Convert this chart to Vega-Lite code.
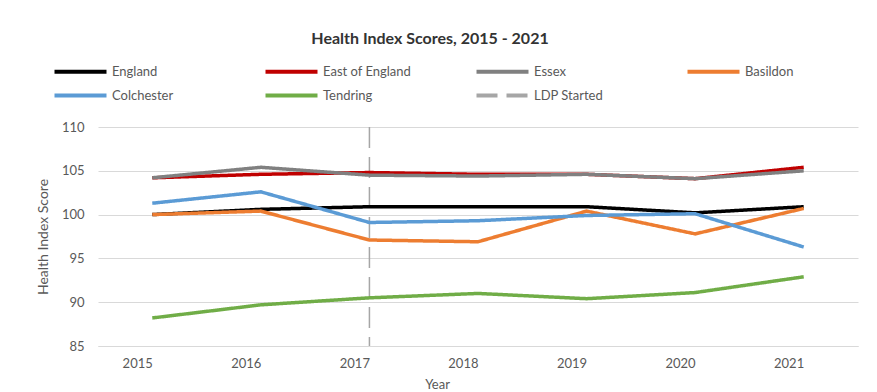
{
  "$schema": "https://vega.github.io/schema/vega-lite/v6.json",
  "width": 760,
  "height": 219,
  "autosize": {"type": "none"},
  "padding": {"left": 98, "top": 127, "right": 19, "bottom": 46},
  "background": "white",
  "title": {
    "text": "Health Index Scores, 2015  - 2021",
    "anchor": "middle",
    "dx": -48,
    "offset": 16,
    "fontSize": 16,
    "fontWeight": "bold",
    "font": "Lato",
    "color": "#333333"
  },
  "config": {
    "font": "Lato",
    "view": {"stroke": null}
  },
  "datasets": {
    "scores": [
      {"Series": "England", "Year": "2015", "Score": 100.0},
      {"Series": "England", "Year": "2016", "Score": 100.6},
      {"Series": "England", "Year": "2017", "Score": 100.9},
      {"Series": "England", "Year": "2018", "Score": 100.9},
      {"Series": "England", "Year": "2019", "Score": 100.9},
      {"Series": "England", "Year": "2020", "Score": 100.2},
      {"Series": "England", "Year": "2021", "Score": 100.9},
      {"Series": "East of England", "Year": "2015", "Score": 104.2},
      {"Series": "East of England", "Year": "2016", "Score": 104.6},
      {"Series": "East of England", "Year": "2017", "Score": 104.8},
      {"Series": "East of England", "Year": "2018", "Score": 104.6},
      {"Series": "East of England", "Year": "2019", "Score": 104.6},
      {"Series": "East of England", "Year": "2020", "Score": 104.1},
      {"Series": "East of England", "Year": "2021", "Score": 105.4},
      {"Series": "Essex", "Year": "2015", "Score": 104.2},
      {"Series": "Essex", "Year": "2016", "Score": 105.4},
      {"Series": "Essex", "Year": "2017", "Score": 104.5},
      {"Series": "Essex", "Year": "2018", "Score": 104.4},
      {"Series": "Essex", "Year": "2019", "Score": 104.6},
      {"Series": "Essex", "Year": "2020", "Score": 104.1},
      {"Series": "Essex", "Year": "2021", "Score": 105.0},
      {"Series": "Basildon", "Year": "2015", "Score": 100.0},
      {"Series": "Basildon", "Year": "2016", "Score": 100.4},
      {"Series": "Basildon", "Year": "2017", "Score": 97.1},
      {"Series": "Basildon", "Year": "2018", "Score": 96.9},
      {"Series": "Basildon", "Year": "2019", "Score": 100.4},
      {"Series": "Basildon", "Year": "2020", "Score": 97.8},
      {"Series": "Basildon", "Year": "2021", "Score": 100.7},
      {"Series": "Colchester", "Year": "2015", "Score": 101.3},
      {"Series": "Colchester", "Year": "2016", "Score": 102.6},
      {"Series": "Colchester", "Year": "2017", "Score": 99.1},
      {"Series": "Colchester", "Year": "2018", "Score": 99.3},
      {"Series": "Colchester", "Year": "2019", "Score": 99.9},
      {"Series": "Colchester", "Year": "2020", "Score": 100.1},
      {"Series": "Colchester", "Year": "2021", "Score": 96.3},
      {"Series": "Tendring", "Year": "2015", "Score": 88.2},
      {"Series": "Tendring", "Year": "2016", "Score": 89.7},
      {"Series": "Tendring", "Year": "2017", "Score": 90.5},
      {"Series": "Tendring", "Year": "2018", "Score": 91.0},
      {"Series": "Tendring", "Year": "2019", "Score": 90.4},
      {"Series": "Tendring", "Year": "2020", "Score": 91.1},
      {"Series": "Tendring", "Year": "2021", "Score": 92.9}
    ],
    "ldp": [
      {"Series": "LDP Started", "Year": "2017"}
    ]
  },
  "layer": [
    {
      "data": {"name": "ldp"},
      "mark": {"type": "rule", "strokeWidth": 1.5},
      "encoding": {
        "x": {"field": "Year", "type": "ordinal"},
        "color": {"field": "Series", "type": "nominal"},
        "strokeDash": {"field": "Series", "type": "nominal"}
      }
    },
    {
      "data": {"name": "scores"},
      "mark": {"type": "line", "strokeWidth": 3.5},
      "encoding": {
        "x": {
          "field": "Year",
          "type": "ordinal",
          "scale": {"type": "point", "padding": 0.5, "domain": ["2015","2016","2017","2018","2019","2020","2021"]},
          "axis": {
            "title": "Year",
            "labelAngle": 0,
            "domain": true,
            "domainColor": "#D9D9D9",
            "ticks": false,
            "labelPadding": 17,
            "labelFontSize": 13,
            "labelColor": "#595959",
            "titleFontSize": 13,
            "titleFontWeight": "normal",
            "titleColor": "#595959",
            "titlePadding": 8,
            "titleX": 339
          }
        },
        "y": {
          "field": "Score",
          "type": "quantitative",
          "scale": {"domain": [85, 110]},
          "axis": {
            "title": "Health Index Score",
            "values": [85, 90, 95, 100, 105, 110],
            "domain": false,
            "ticks": false,
            "gridColor": "#D9D9D9",
            "labelPadding": 14,
            "labelFontSize": 13,
            "labelColor": "#595959",
            "titleFontSize": 14,
            "titleFontWeight": "normal",
            "titleColor": "#595959",
            "titlePadding": 11
          }
        },
        "color": {
          "field": "Series",
          "type": "nominal",
          "sort": null,
          "scale": {
            "domain": ["England", "East of England", "Essex", "Basildon", "Colchester", "Tendring", "LDP Started"],
            "range": ["#000000", "#C00000", "#808080", "#ED7D31", "#5B9BD5", "#70AD47", "#A6A6A6"]
          },
          "legend": {
            "title": null,
            "orient": "none",
            "direction": "horizontal",
            "legendX": -26,
            "legendY": -64,
            "columns": 4,
            "gridAlign": "all",
            "columnPadding": 56,
            "rowPadding": 7,
            "symbolType": "M-4,0H4",
            "symbolSize": 169,
            "symbolStrokeWidth": 4,
            "labelFontSize": 13,
            "labelColor": "#595959",
            "labelOffset": 23
          }
        },
        "strokeDash": {
          "field": "Series",
          "type": "nominal",
          "scale": {
            "domain": ["England", "East of England", "Essex", "Basildon", "Colchester", "Tendring", "LDP Started"],
            "range": [[1, 0], [1, 0], [1, 0], [1, 0], [1, 0], [1, 0], [21, 9]]
          },
          "legend": null
        }
      }
    }
  ]
}
